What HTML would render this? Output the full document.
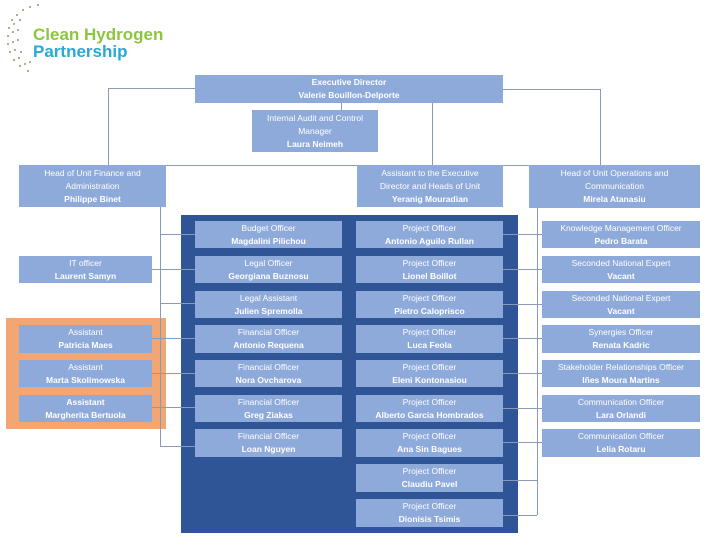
<!DOCTYPE html>
<html><head><style>
body{margin:0;width:712px;height:553px;background:#fff;position:relative;overflow:hidden;font-family:"Liberation Sans",sans-serif;}
.b{position:absolute;background:#8eaadb;color:#fff;font-size:8.5px;line-height:13px;text-align:center;display:flex;flex-direction:column;justify-content:center;white-space:nowrap;overflow:hidden}
.b b{font-weight:bold}
.l{position:absolute;background:#8a9bb5}
</style></head><body>
<svg style="position:absolute;left:0;top:0" width="60" height="80">
<g fill="#8a9a70">
<circle cx="12" cy="20" r="1"/><circle cx="9" cy="28" r="1"/><circle cx="8" cy="36" r="1"/><circle cx="8" cy="44" r="1"/><circle cx="10" cy="52" r="1"/><circle cx="14" cy="60" r="1"/><circle cx="20" cy="66" r="1"/><circle cx="28" cy="71" r="1"/>
<circle cx="17" cy="15" r="1"/><circle cx="14" cy="24" r="1"/><circle cx="13" cy="32" r="1"/><circle cx="13" cy="42" r="1"/><circle cx="15" cy="50" r="1"/><circle cx="19" cy="58" r="1"/><circle cx="25" cy="64" r="1"/>
<circle cx="23" cy="10" r="1"/><circle cx="30" cy="7" r="1"/><circle cx="38" cy="5" r="1"/><circle cx="20" cy="20" r="1"/><circle cx="18" cy="30" r="1"/><circle cx="18" cy="40" r="1"/><circle cx="21" cy="52" r="1"/><circle cx="30" cy="62" r="1"/>
</g></svg>
<div style="position:absolute;left:33px;top:26px;font-size:17px;font-weight:bold;color:#8cc63f;line-height:17px">Clean Hydrogen</div>
<div style="position:absolute;left:33px;top:43px;font-size:17px;font-weight:bold;color:#2aa8d8;line-height:17px">Partnership</div>

<div class="l" style="left:108px;top:88px;width:87px;height:1px"></div>
<div class="l" style="left:108px;top:88px;width:1px;height:77px"></div>
<div class="l" style="left:503px;top:89px;width:97px;height:1px"></div>
<div class="l" style="left:600px;top:89px;width:1px;height:76px"></div>
<div class="l" style="left:432px;top:103px;width:1px;height:62px"></div>
<div class="l" style="left:341px;top:103px;width:1px;height:7px"></div>
<div class="l" style="left:166px;top:165px;width:363px;height:1px"></div>

<div class="b" style="left:195px;top:75px;width:308px;height:28px"><b>Executive Director</b><b>Valerie Bouillon-Delporte</b></div>
<div class="b" style="left:252px;top:110px;width:126px;height:42px"><span>Internal Audit and Control</span><span>Manager</span><b>Laura Neimeh</b></div>
<div class="b" style="left:19px;top:165px;width:147px;height:42px"><span>Head of Unit Finance and</span><span>Administration</span><b>Philippe Binet</b></div>
<div class="b" style="left:357px;top:165px;width:146px;height:42px"><span>Assistant to the Executive</span><span>Director and Heads of Unit</span><b>Yeranig Mouradian</b></div>
<div class="b" style="left:529px;top:165px;width:171px;height:43px"><span>Head of Unit Operations and</span><span>Communication</span><b>Mirela Atanasiu</b></div>

<div style="position:absolute;left:6px;top:318px;width:160px;height:111px;background:#f2a673"></div>
<div style="position:absolute;left:181px;top:215px;width:337px;height:318px;background:#2f5597"></div>

<div class="l" style="left:160px;top:207px;width:1px;height:239px"></div>
<div class="l" style="left:160px;top:234px;width:35px;height:1px"></div>
<div class="l" style="left:152px;top:269px;width:43px;height:1px"></div>
<div class="l" style="left:160px;top:303px;width:35px;height:1px"></div>
<div class="l" style="left:152px;top:338px;width:43px;height:1px"></div>
<div class="l" style="left:152px;top:373px;width:43px;height:1px"></div>
<div class="l" style="left:152px;top:407px;width:43px;height:1px"></div>
<div class="l" style="left:160px;top:446px;width:35px;height:1px"></div>

<div class="l" style="left:537px;top:208px;width:1px;height:307px"></div>
<div class="l" style="left:503px;top:234px;width:39px;height:1px"></div>
<div class="l" style="left:503px;top:269px;width:39px;height:1px"></div>
<div class="l" style="left:503px;top:304px;width:39px;height:1px"></div>
<div class="l" style="left:503px;top:338px;width:39px;height:1px"></div>
<div class="l" style="left:503px;top:373px;width:39px;height:1px"></div>
<div class="l" style="left:503px;top:408px;width:39px;height:1px"></div>
<div class="l" style="left:503px;top:442px;width:39px;height:1px"></div>
<div class="l" style="left:503px;top:480px;width:34px;height:1px"></div>
<div class="l" style="left:503px;top:515px;width:34px;height:1px"></div>

<div class="b" style="left:19px;top:256px;width:133px;height:27px"><span>IT officer</span><b>Laurent Samyn</b></div>
<div class="b" style="left:19px;top:325px;width:133px;height:28px"><span>Assistant</span><b>Patricia Maes</b></div>
<div class="b" style="left:19px;top:360px;width:133px;height:27px"><span>Assistant</span><b>Marta Skolimowska</b></div>
<div class="b" style="left:19px;top:395px;width:133px;height:27px"><b>Assistant</b><b>Margherita Bertuola</b></div>

<div class="b" style="left:195px;top:221px;width:147px;height:27px"><span>Budget Officer</span><b>Magdalini Pilichou</b></div>
<div class="b" style="left:195px;top:256px;width:147px;height:27px"><span>Legal Officer</span><b>Georgiana Buznosu</b></div>
<div class="b" style="left:195px;top:291px;width:147px;height:27px"><span>Legal Assistant</span><b>Julien Spremolla</b></div>
<div class="b" style="left:195px;top:325px;width:147px;height:28px"><span>Financial Officer</span><b>Antonio Requena</b></div>
<div class="b" style="left:195px;top:360px;width:147px;height:27px"><span>Financial Officer</span><b>Nora Ovcharova</b></div>
<div class="b" style="left:195px;top:395px;width:147px;height:27px"><span>Financial Officer</span><b>Greg Ziakas</b></div>
<div class="b" style="left:195px;top:429px;width:147px;height:28px"><span>Financial Officer</span><b>Loan Nguyen</b></div>

<div class="b" style="left:356px;top:221px;width:147px;height:27px"><span>Project Officer</span><b>Antonio Aguilo Rullan</b></div>
<div class="b" style="left:356px;top:256px;width:147px;height:27px"><span>Project Officer</span><b>Lionel Boillot</b></div>
<div class="b" style="left:356px;top:291px;width:147px;height:27px"><span>Project Officer</span><b>Pietro Caloprisco</b></div>
<div class="b" style="left:356px;top:325px;width:147px;height:28px"><span>Project Officer</span><b>Luca Feola</b></div>
<div class="b" style="left:356px;top:360px;width:147px;height:27px"><span>Project Officer</span><b>Eleni Kontonasiou</b></div>
<div class="b" style="left:356px;top:395px;width:147px;height:27px"><span>Project Officer</span><b>Alberto Garcia Hombrados</b></div>
<div class="b" style="left:356px;top:429px;width:147px;height:28px"><span>Project Officer</span><b>Ana Sin Bagues</b></div>
<div class="b" style="left:356px;top:464px;width:147px;height:28px"><span>Project Officer</span><b>Claudiu Pavel</b></div>
<div class="b" style="left:356px;top:499px;width:147px;height:28px"><span>Project Officer</span><b>Dionisis Tsimis</b></div>

<div class="b" style="left:542px;top:221px;width:158px;height:27px"><span>Knowledge Management Officer</span><b>Pedro Barata</b></div>
<div class="b" style="left:542px;top:256px;width:158px;height:27px"><span>Seconded National Expert</span><b>Vacant</b></div>
<div class="b" style="left:542px;top:291px;width:158px;height:27px"><span>Seconded National Expert</span><b>Vacant</b></div>
<div class="b" style="left:542px;top:325px;width:158px;height:28px"><span>Synergies Officer</span><b>Renata Kadric</b></div>
<div class="b" style="left:542px;top:360px;width:158px;height:27px"><span>Stakeholder Relationships Officer</span><b>Iñes Moura Martins</b></div>
<div class="b" style="left:542px;top:395px;width:158px;height:27px"><span>Communication Officer</span><b>Lara Orlandi</b></div>
<div class="b" style="left:542px;top:429px;width:158px;height:28px"><span>Communication Officer</span><b>Lelia Rotaru</b></div>
</body></html>
